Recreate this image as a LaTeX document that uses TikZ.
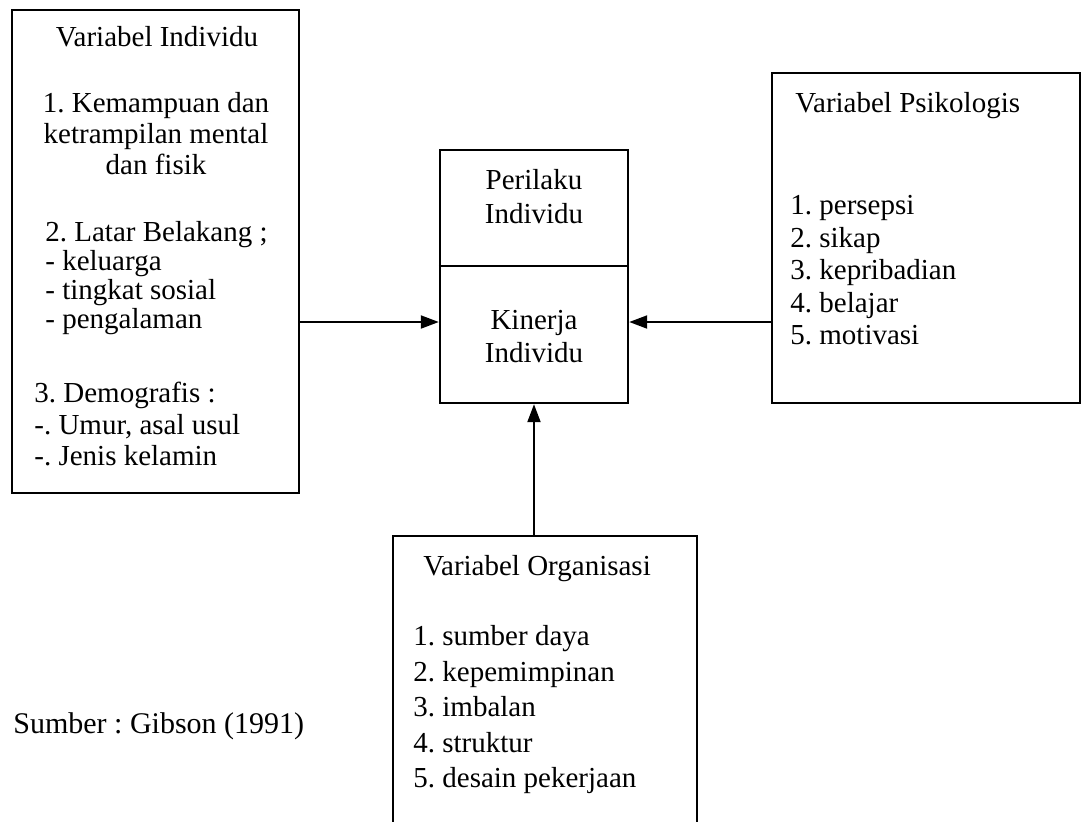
\documentclass[tikz,border=0pt]{standalone}
\usepackage{fontspec}
\setmainfont{Liberation Serif}
\usetikzlibrary{arrows.meta}
\newcommand{\varfont}[1]{\fontsize{14.5}{#1}\selectfont\frenchspacing}

\begin{document}
\begin{tikzpicture}[x=0.5pt, y=-0.5pt,
  varbox/.style={draw, line width=1.2pt, inner sep=0},
  txt/.style={inner sep=0, font=\varfont{15}},
  link/.style={line width=1pt, -{Triangle[length=9pt,width=6.5pt]}}]
  \useasboundingbox (0,0) rectangle (1083,821);
  \clip (0,0) rectangle (1083,821);
  % kotak-kotak variabel
  \node[varbox, minimum width=143.5pt, minimum height=241.5pt] (ind) at (155.5,251.5) {};
  \node[varbox, minimum width=94pt, minimum height=126.5pt] (per) at (534,276.5) {};
  \node[varbox, minimum width=154pt, minimum height=165pt] (psi) at (926,238) {};
  \node[varbox, minimum width=152pt, minimum height=152pt] (org) at (545,688) {};
  \draw[line width=1.2pt] ([yshift=5.25pt]per.west) -- ([yshift=5.25pt]per.east);
  % teks
  \node[txt, anchor=base] (indT) at (157,46) {Variabel Individu};
  \node[txt, anchor=north, align=center, font=\varfont{15.5}] (ind1) at (156,92) {1. Kemampuan dan\\ketrampilan mental\\dan fisik};
  \node[txt, anchor=north west, align=left, font=\varfont{14.5}] (ind2) at (45,221) {2. Latar Belakang ;\\- keluarga\\- tingkat sosial\\- pengalaman};
  \node[txt, anchor=north west, align=left, font=\varfont{15.75}] (ind3) at (34,382) {3. Demografis :\\-. Umur, asal usul\\-. Jenis kelamin};
  \node[txt, anchor=north, align=center, font=\varfont{17}] (perT) at (534,169) {Perilaku\\Individu};
  \node[txt, anchor=north, align=center, font=\varfont{16.5}] (kin) at (534,310) {Kinerja\\Individu};
  \node[txt, anchor=base west] (psiT) at (795,112) {Variabel Psikologis};
  \node[txt, anchor=north west, align=left, font=\varfont{16.25}] (psiL) at (790,195) {1. persepsi\\2. sikap\\3. kepribadian\\4. belajar\\5. motivasi};
  \node[txt, anchor=base west] (orgT) at (423,575) {Variabel Organisasi};
  \node[txt, anchor=north west, align=left, font=\varfont{17.75}] (orgL) at (413,625) {1. sumber daya\\2. kepemimpinan\\3. imbalan\\4. struktur\\5. desain pekerjaan};
  \node[txt, anchor=base west, font=\fontsize{15}{16}\selectfont\frenchspacing] (src) at (13,733) {Sumber : Gibson (1991)};
  % panah
  \coordinate (mid) at (534,322);
  \draw[link] (ind.east |- mid) -- (per.west |- mid);
  \draw[link] (psi.west |- mid) -- (per.east |- mid);
  \draw[link] (per.south |- org.north) -- (per.south);
\end{tikzpicture}
\end{document}
